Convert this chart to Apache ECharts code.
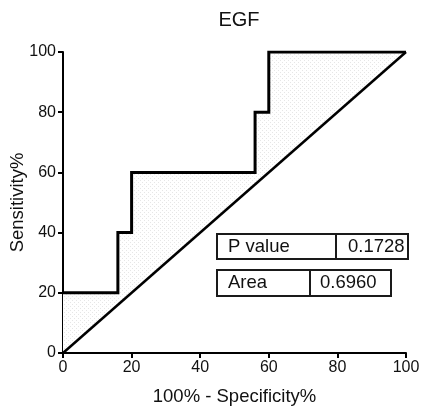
<!DOCTYPE html>
<html>
<head>
<meta charset="utf-8">
<script src="https://cdn.jsdelivr.net/npm/echarts@6/dist/echarts.min.js"></script>
<style>
html,body{margin:0;padding:0;background:#fff;}
#chart{width:422px;height:414px;}
</style>
</head>
<body>
<div id="chart"></div>
<script>
// ROC curve: 100% - Specificity% (x) vs Sensitivity% (y)
const rocX = [0, 16, 16, 20, 20, 56, 56, 60, 60, 100];
const rocY = [20, 20, 40, 40, 60, 60, 80, 80, 100, 100];
// reference (chance) line
const refX = [0, 100];
const refY = [0, 100];
const xTicks = [0, 20, 40, 60, 80, 100];
const yTicks = [0, 20, 40, 60, 80, 100];
const tableLabels = ["P value", "Area"];
const tableValues = ["0.1728", "0.6960"];
const titleText = "EGF";

const FONT = '"Liberation Sans", Arial, Helvetica, sans-serif';

// light stippled fill pattern
const pc = document.createElement('canvas');
pc.width = 4; pc.height = 4;
const pctx = pc.getContext('2d');
pctx.fillStyle = '#ffffff'; pctx.fillRect(0, 0, 4, 4);
pctx.fillStyle = '#e6e6e6';
pctx.fillRect(0, 0, 1, 1);
pctx.fillRect(2, 2, 1, 1);

const rocData = rocX.map((x, i) => [x, rocY[i]]);
const refData = refX.map((x, i) => [x, refY[i]]);

const chart = echarts.init(document.getElementById('chart'), null, {renderer: 'canvas'});

const axisCommon = {
  type: 'value', min: 0, max: 100, interval: 20,
  splitLine: {show: false},
  axisLine: {show: true, onZero: false, lineStyle: {color: '#000', width: 2}},
  axisTick: {show: true, inside: false, length: 5, lineStyle: {color: '#000', width: 2}},
  axisLabel: {color: '#111', fontSize: 16, fontFamily: FONT, margin: 7},
  nameLocation: 'middle',
  nameMoveOverlap: false,
  nameTextStyle: {color: '#111', fontSize: 18.5, fontFamily: FONT}
};

function tableGraphic(x, y, w, h, div, label, value, labelX, valueX) {
  return {
    type: 'group', z: 100,
    children: [
      {type: 'rect', shape: {x: x, y: y, width: w, height: h},
       style: {fill: '#fff', stroke: '#1a1a1a', lineWidth: 2}},
      {type: 'line', shape: {x1: div, y1: y, x2: div, y2: y + h},
       style: {stroke: '#1a1a1a', lineWidth: 2}},
      {type: 'text', x: labelX, y: y + h / 2,
       style: {text: label, fill: '#111', font: '18.5px ' + FONT, textVerticalAlign: 'middle', verticalAlign: 'middle'}},
      {type: 'text', x: valueX, y: y + h / 2,
       style: {text: value, fill: '#111', font: '18.5px ' + FONT, textVerticalAlign: 'middle', verticalAlign: 'middle'}}
    ]
  };
}

chart.setOption({
  animation: false,
  backgroundColor: '#fff',
  title: {
    text: titleText, left: 234, top: 5, textAlign: 'center',
    textStyle: {color: '#111', fontSize: 20, fontWeight: 'normal', fontFamily: FONT}
  },
  grid: {left: 63, right: 16, top: 52, bottom: 61, containLabel: false, outerBoundsMode: 'none'},
  xAxis: Object.assign({}, axisCommon, {name: '100% - Specificity%', nameGap: 34}),
  yAxis: Object.assign({}, axisCommon, {name: 'Sensitivity%', nameGap: 36}),
  series: [
    {
      type: 'custom', z: 1, silent: true,
      data: [[0, 0]],
      renderItem: function (params, api) {
        const pts = rocData.map(p => api.coord(p));
        pts.push(api.coord([refX[0], refY[0]]));
        return {
          type: 'polygon',
          shape: {points: pts},
          style: {fill: {image: pc, repeat: 'repeat'}, stroke: null}
        };
      }
    },
    {
      type: 'line', z: 3, data: refData, symbol: 'none',
      lineStyle: {color: '#000', width: 2.5}
    },
    {
      type: 'line', z: 4, data: rocData, symbol: 'none',
      lineStyle: {color: '#000', width: 3, join: 'miter'}
    }
  ],
  graphic: [
    tableGraphic(217, 234, 191, 25, 336, tableLabels[0], tableValues[0], 228, 348),
    tableGraphic(217, 270, 174, 26, 310, tableLabels[1], tableValues[1], 228, 320)
  ]
});
</script>
</body>
</html>
